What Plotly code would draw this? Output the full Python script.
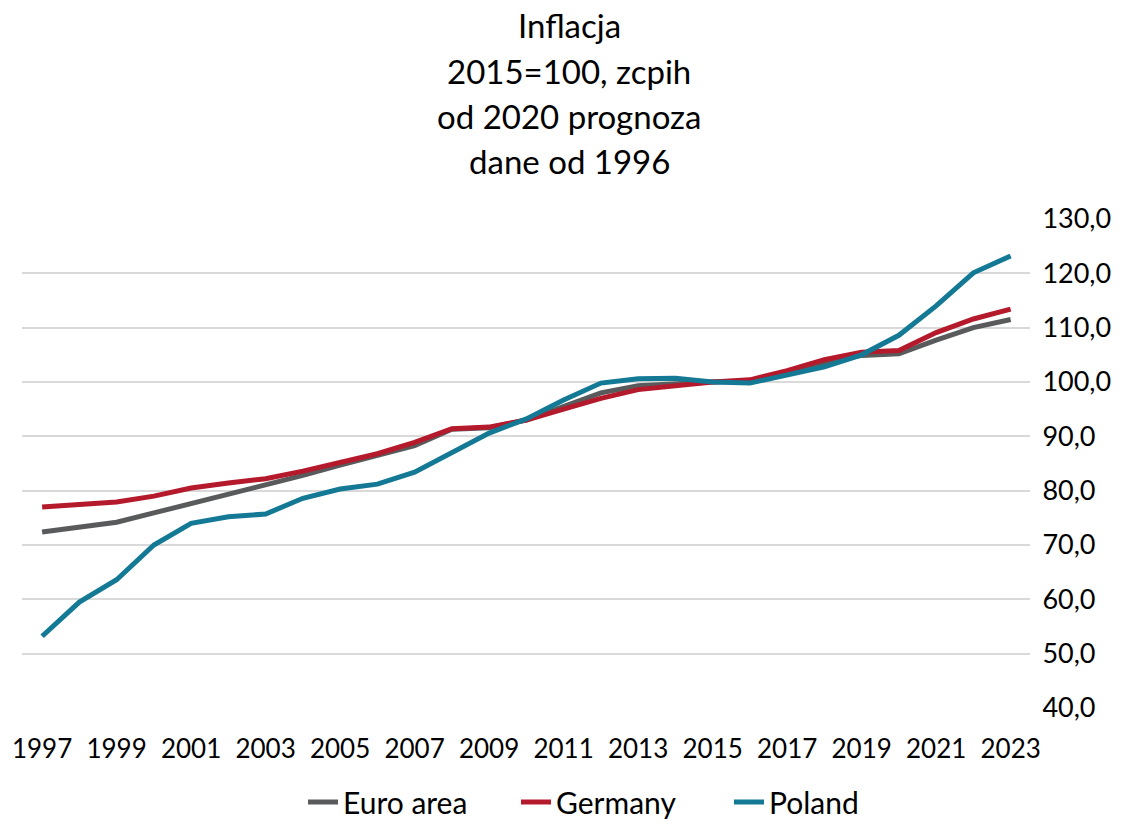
import plotly.graph_objects as go

years = list(range(1997, 2024))

euro_area = [72.4, 73.3, 74.2, 75.9, 77.6, 79.4, 81.1, 82.8, 84.7, 86.5, 88.3, 91.3, 91.6, 93.0, 95.6, 98.0, 99.3, 99.7, 100.0, 100.2, 101.8, 103.6, 104.9, 105.2, 107.7, 110.0, 111.5]
germany = [77.0, 77.4, 77.9, 79.0, 80.5, 81.4, 82.2, 83.6, 85.2, 86.8, 88.9, 91.4, 91.7, 93.0, 95.0, 97.0, 98.6, 99.3, 100.0, 100.4, 102.1, 104.1, 105.5, 105.8, 109.1, 111.6, 113.4]
poland = [53.2, 59.5, 63.6, 70.0, 74.0, 75.2, 75.7, 78.6, 80.3, 81.2, 83.4, 86.9, 90.6, 93.2, 96.7, 99.8, 100.6, 100.7, 100.0, 99.8, 101.3, 102.8, 105.0, 108.6, 114.0, 120.1, 123.2]

series = [
    ("Euro area", euro_area, "#595A5C"),
    ("Germany", germany, "#B41A2C"),
    ("Poland", poland, "#137995"),
]

title_lines = ["Inflacja", "2015=100, zcpih", "od 2020 prognoza", "dane od 1996"]
x_tick_vals = list(range(1997, 2024, 2))
y_tick_vals = list(range(40, 131, 10))

FONT = "Lato, 'Open Sans', sans-serif"

W, H = 1145, 826
ML, MR, MT, MB = 22, 115, 219, 118
plot_h = H - MT - MB

fig = go.Figure()
for name, vals, color in series:
    fig.add_trace(go.Scatter(
        x=years, y=vals, name=name, mode="lines",
        line=dict(color=color, width=5),
    ))

# title lines: vertical centres in figure pixels
title_centres_px = [25, 71, 116, 161]
annotations = []
for txt, cy in zip(title_lines, title_centres_px):
    annotations.append(dict(
        text=txt, xref="paper", yref="paper",
        x=(569 - ML) / (W - ML - MR), y=(H - MB - cy) / plot_h,
        xanchor="center", yanchor="middle",
        showarrow=False,
        font=dict(family=FONT, size=33, color="#000000"),
    ))

fig.update_layout(
    width=W, height=H,
    paper_bgcolor="white", plot_bgcolor="white",
    margin=dict(l=ML, r=MR, t=MT, b=MB, autoexpand=False),
    separators=", ",
    font=dict(family=FONT, size=26, color="#000000"),
    showlegend=True,
    legend=dict(
        orientation="h", x=(303 - ML) / (W - ML - MR), xanchor="left",
        y=-(MB + 2) / plot_h, yanchor="bottom",
        font=dict(family=FONT, size=30, color="#000000"),
        entrywidth=168, entrywidthmode="pixels",
        traceorder="normal",
    ),
    annotations=annotations,
)

fig.update_xaxes(
    range=[1996.46, 2023.52], automargin=False,
    tickmode="array", tickvals=x_tick_vals,
    ticktext=[str(v) for v in x_tick_vals],
    showgrid=False, zeroline=False, showline=False,
    ticks="outside", ticklen=18, tickcolor="rgba(0,0,0,0)",
    tickfont=dict(family=FONT, size=26, color="#000000"),
)
fig.update_yaxes(
    range=[40, 130], side="right", automargin=False,
    tickmode="array", tickvals=y_tick_vals, tickformat=".1f",
    showgrid=True, gridcolor="#D9D9D9", gridwidth=1.5,
    zeroline=False, showline=False,
    ticks="outside", ticklen=6, tickcolor="rgba(0,0,0,0)",
    tickfont=dict(family=FONT, size=27, color="#000000"),
)

fig.write_html(
    "out.html",
    config={"displayModeBar": False},
    post_script="document.body.style.margin='0';",
)
